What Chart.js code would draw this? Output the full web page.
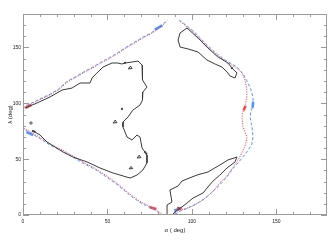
<!DOCTYPE html>
<html>
<head>
<meta charset="utf-8">
<script src="https://cdn.jsdelivr.net/npm/chart.js@4.4.1/dist/chart.umd.min.js"></script>
<style>
  html, body { margin: 0; padding: 0; background: #fff; }
  #wrap { width: 336px; height: 240px; }
</style>
</head>
<body>
<div id="wrap"><canvas id="chart"></canvas></div>
<script>
const AXIS_COLOR = "#9a9a9a";
const RED = "rgba(240,60,60,0.9)";
const BLUE = "rgba(70,135,255,0.9)";
const BLACK = "#3a3a3a";

const tickLabels = [0, 50, 100, 150];
const minorTicks = [10, 20, 30, 40, 60, 70, 80, 90, 110, 120, 130, 140, 160, 170];

// red dotted boundary (alpha, lambda)
const redUpperLeft = [[0.5,96.5],[5,99.5],[10,103.3],[16,107.5],[21,112],[26,118.8],[31,123],[36,127.5],[41,131.5],[46,136],[51,140],[56,144.5],[61,149.5],[66,154],[71,158.5],[76,162.5],[81,167.5],[85,173.5]];
const redRight = [[93,173.5],[97,168.5],[101,163.5],[105,157.5],[109.5,150.5],[115,143],[121,136.5],[126,132],[129.5,127.5],[131.4,121],[132.4,114],[132.6,107],[132,101],[131,96],[129.8,90],[129.7,86],[130.3,79],[131.5,74],[132.6,69.8],[132,65],[131.2,60.5],[129.5,55.5],[127.5,49.5],[124.5,43],[120.8,35],[116.6,29],[113,22],[109,16.5],[105,12],[101,8.5],[97,6],[92,4],[88.5,0]];
const redLowerLeft = [[0.5,77.5],[5,74],[10,69.5],[16,63.5],[23,58.5],[30,52.5],[36,47],[43,41.5],[50,34.5],[56,28],[63,19],[69,12.5],[74,8.5],[77,6.3],[80,3.5],[83,0]];

// blue dashed boundary
const blueUpperLeft = [[2,98],[5,100.2],[10,104],[16,108.2],[21,112.7],[26,119.5],[31,123.7],[36,128.2],[41,132.2],[46,136.7],[51,140.7],[56,145.2],[61,150.2],[66,154.7],[71,159.2],[76,163.2],[81,168.2],[85.5,174.5]];
const blueRight = [[92.5,174.5],[97,169.5],[101,164.5],[105,158.5],[109.5,151.5],[115,144],[121,137.5],[126.7,132.5],[130.5,126],[133.2,118.2],[135.3,111],[136.2,104],[136.2,98.5],[135,92.5],[134.4,87.8],[135.2,82],[135.8,76],[136.2,70],[135.5,63.5],[133.5,58.5],[130.5,52.5],[127.5,47],[124,41],[120.5,33.5],[116.5,27],[112,20.5],[107.5,14.5],[102,9.5],[97,5.8],[93,3.5],[89.5,0]];
const blueLowerLeft = [[1.5,76],[5,73],[10,68.5],[16,62.5],[23,57.5],[30,51.5],[36,46],[43,40.5],[50,33.5],[56,27],[63,18],[69,11.5],[74,7.5],[77,5.3],[80,2.5],[82,0]];

// thicker clusters of points along the boundary
const redClusters = [[[1.5,96],[5,98.6]], [[130.6,93.5],[131.8,97.8]], [[75,6.9],[79,5.4]], [[91.5,5.2],[94,6.2]]];
const blueClusters = [[[2,74.2],[6,71.6]], [[78,166],[82.5,169.8]], [[135.9,96],[136.3,101.5]], [[89.5,3.8],[93,5.8]]];

// black contours
const contourLeft = [[1.2,95.8],[8.3,100.3],[16,105.7],[23.1,111.9],[29,113.7],[33.8,118.2],[39.7,118.2],[40.9,122.7],[43.8,127.2],[47.4,132.5],[52.7,136.1],[56.2,136.1],[58.6,135.2],[60.4,136.1],[64.5,137],[68.1,137.9],[70.5,134.3],[70.5,127.2],[71,120.9],[73.4,114.6],[71,110.1],[70.5,104.8],[71,103],[69.3,98.5],[65.1,94],[62.2,87.8],[59.2,83.3],[59.2,78.8],[61.6,69.8],[64.5,67.2],[67.5,71.6],[69.3,69.8],[70.5,60],[72.2,56.4],[73.4,53.7],[73.4,46.6],[71,40.3],[67.5,35.8],[63.4,33.1],[57.4,35.8],[53.3,37.6],[45.6,42.1],[37.9,47.5],[29.6,51.9],[23.7,56.4],[14.2,65.4],[10.1,71.6],[7.1,74.3],[5.9,75.2]];
const contourRightTop = [[97.1,167.5],[93,163],[91.8,156.7],[93,150.4],[97.7,148.7],[103.6,146],[108.9,138.8],[113.7,135.2],[117.8,132.5],[120.8,128.1],[122.6,124.5],[125.5,122.7],[126.7,127.2],[123.7,131.6],[121.4,136.1],[115,142],[109.5,149.5],[103.6,158.5],[97.1,167.5]];
const contourRightBottom = [[85.3,0],[85.3,9],[88.2,11.6],[87,22.4],[91.8,26],[94.1,30.4],[103,35.8],[109.5,38.5],[116.6,44.8],[121.4,49.3],[126.7,51.9],[125.5,47.5],[120.8,42.1],[116.6,35.8],[112.5,30.4],[109,24.2],[106.6,19.7],[100.7,15.2],[97.1,10.7],[94.1,7.2],[90.6,3.6],[88.2,0]];
const islands = [
  [[62.4,130.8],[64.6,131.2],[63.6,133.4],[62.4,130.8]],
  [[53.4,82.3],[55.6,82.8],[54.6,85],[53.4,82.3]],
  [[67.6,51],[69.8,51.4],[68.8,53.6],[67.6,51]],
  [[62.8,41.3],[65,41.6],[64,43.5],[62.8,41.3]],
];
const blackDots = [[60.4,136.3],[72.2,56.4],[73,55],[5.9,75.2],[6.8,74.6],[123.7,131.6],[92,6.3],[58.6,95]];
const plusMarks = [[4.7,82.4]];

const toPoints = (pairs) => pairs.map(([x, y]) => ({ x, y }));

const lineSet = (pairs, color, width, dash) => ({
  data: toPoints(pairs),
  showLine: true,
  borderColor: color,
  borderWidth: width,
  borderDash: dash,
  pointRadius: 0,
  fill: false,
  tension: 0,
});

const datasets = [
  lineSet(contourLeft, BLACK, 1, []),
  lineSet(contourRightTop, BLACK, 1, []),
  lineSet(contourRightBottom, BLACK, 1, []),
  ...islands.map((s) => lineSet(s, BLACK, 1, [])),
  lineSet(blueUpperLeft, BLUE, 1, [3, 2]),
  lineSet(blueRight, BLUE, 1, [3, 2]),
  lineSet(blueLowerLeft, BLUE, 1, [3, 2]),
  lineSet(redUpperLeft, RED, 1, [1.2, 1.3]),
  lineSet(redRight, RED, 1, [1.2, 1.3]),
  lineSet(redLowerLeft, RED, 1, [1.2, 1.3]),
  ...redClusters.map((s) => lineSet(s, RED, 2.5, [])),
  ...blueClusters.map((s) => lineSet(s, BLUE, 2.5, [])),
  {
    data: toPoints(blackDots),
    pointRadius: 1.1,
    pointBackgroundColor: BLACK,
    pointBorderWidth: 0,
    showLine: false,
  },
  {
    data: toPoints(plusMarks),
    pointStyle: "cross",
    pointRadius: 2,
    pointBorderColor: BLACK,
    pointBorderWidth: 0.8,
    showLine: false,
  },
];

// IDL style frame: box plus inward ticks on all four sides
const frameTicks = {
  id: "frameTicks",
  afterDraw(chart) {
    const { ctx, chartArea: a, scales } = chart;
    ctx.save();
    ctx.strokeStyle = AXIS_COLOR;
    ctx.lineWidth = 1;
    ctx.strokeRect(a.left + 0.5, a.top + 0.5, a.right - a.left - 1, a.bottom - a.top - 1);
    const drawTick = (v, len) => {
      const px = Math.round(scales.x.getPixelForValue(v)) + 0.5;
      ctx.beginPath();
      ctx.moveTo(px, a.bottom);
      ctx.lineTo(px, a.bottom - len);
      ctx.moveTo(px, a.top);
      ctx.lineTo(px, a.top + len);
      ctx.stroke();
      const py = Math.round(scales.y.getPixelForValue(v)) + 0.5;
      ctx.beginPath();
      ctx.moveTo(a.left, py);
      ctx.lineTo(a.left + len, py);
      ctx.moveTo(a.right, py);
      ctx.lineTo(a.right - len, py);
      ctx.stroke();
    };
    tickLabels.forEach((v) => drawTick(v, 6));
    minorTicks.forEach((v) => drawTick(v, 3));
    ctx.restore();
  },
};

const tickFont = { family: "'Liberation Sans', Arial, sans-serif", size: 5 };
const titleFont = { family: "'Liberation Sans', Arial, sans-serif", size: 6 };

new Chart(document.getElementById("chart"), {
  type: "scatter",
  data: { datasets },
  options: {
    responsive: true,
    maintainAspectRatio: false,
    animation: false,
    layout: { padding: { top: 14, right: 9, left: 0, bottom: 0 } },
    plugins: { legend: { display: false }, tooltip: { enabled: false } },
    scales: {
      x: {
        type: "linear",
        min: 0,
        max: 180,
        grid: { display: false, drawTicks: false },
        border: { display: false },
        ticks: {
          stepSize: 50,
          includeBounds: false,
          autoSkip: false,
          maxRotation: 0,
          padding: 4,
          color: "#222",
          font: tickFont,
          callback: (v) => (tickLabels.includes(v) ? String(v) : ""),
        },
        title: { display: true, text: "α ( deg)", color: "#222", font: titleFont, padding: { bottom: 6.4, top: 0 } },
        afterFit: (scale) => { scale.height = 25; },
      },
      y: {
        type: "linear",
        min: 0,
        max: 180,
        grid: { display: false, drawTicks: false },
        border: { display: false },
        ticks: {
          stepSize: 50,
          includeBounds: false,
          autoSkip: false,
          padding: 2,
          color: "#222",
          font: tickFont,
          callback: (v) => (tickLabels.includes(v) ? String(v) : ""),
        },
        title: { display: true, text: "λ (deg)", color: "#222", font: titleFont, padding: { top: 6.4, bottom: 0 } },
        afterFit: (scale) => { scale.width = 23; },
      },
    },
  },
  plugins: [frameTicks],
});
</script>
</body>
</html>
